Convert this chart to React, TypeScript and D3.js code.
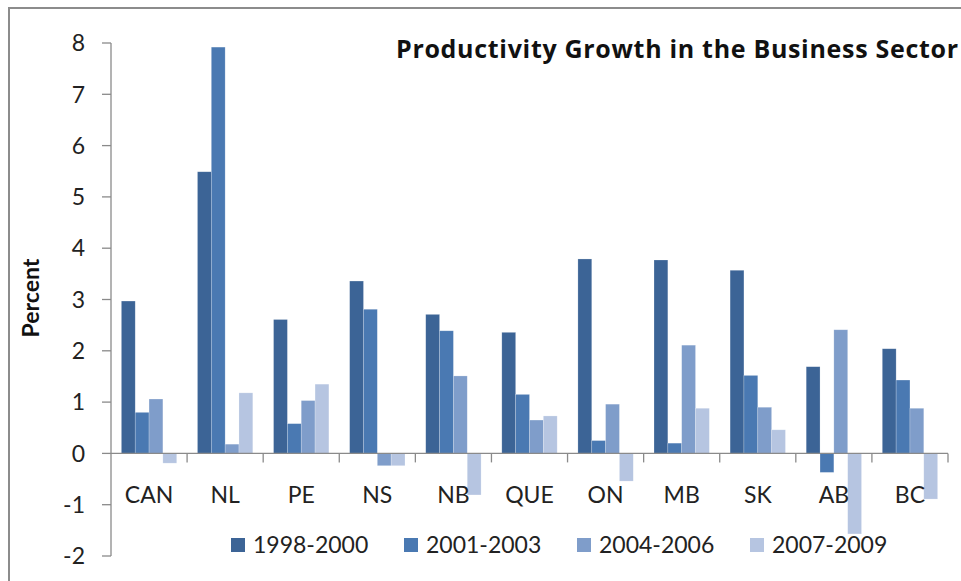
import React from "react"
import * as d3 from "d3"

const width = 961
const height = 581
const margin = { top: 43, right: 13, bottom: 25, left: 111 }

// categories and series values
const provinces = ["CAN", "NL", "PE", "NS", "NB", "QUE", "ON", "MB", "SK", "AB", "BC"]
const periods = ["1998-2000", "2001-2003", "2004-2006", "2007-2009"]
const growth1998 = [2.97, 5.49, 2.61, 3.36, 2.71, 2.36, 3.79, 3.77, 3.57, 1.69, 2.04]
const growth2001 = [0.8, 7.92, 0.58, 2.81, 2.39, 1.15, 0.25, 0.2, 1.52, -0.37, 1.43]
const growth2004 = [1.06, 0.18, 1.03, -0.24, 1.51, 0.65, 0.96, 2.11, 0.9, 2.41, 0.88]
const growth2007 = [-0.19, 1.18, 1.35, -0.24, -0.81, 0.73, -0.54, 0.88, 0.46, -1.57, -0.89]
const yTicks = [-2, -1, 0, 1, 2, 3, 4, 5, 6, 7, 8]
const colors = ["#3c6496", "#4a79b2", "#7f9dca", "#b6c5e1"]

const seriesValues = [growth1998, growth2001, growth2004, growth2007]

const font = "Lato, 'Open Sans', sans-serif"
const axisColor = "#8a8a8a"

export default function App() {
  const x0 = d3.scaleBand().domain(provinces).range([margin.left, width - margin.right])
  const gap = x0.bandwidth() * 1.5 / 5.5
  const x1 = d3.scaleBand().domain(periods).range([gap / 2, x0.bandwidth() - gap / 2])
  const y = d3.scaleLinear().domain([-2, 8]).range([height - margin.bottom, margin.top])

  const legendX = d3.scaleBand().domain(periods).range([231, 231 + 173 * 4])

  return (
    <svg width={width} height={height} style={{ position: "absolute", left: 0, top: 0, background: "#fff" }}>
      {/* chart frame */}
      <path d={`M9,${height} L9,8 L${width},8`} fill="none" stroke="#8c8c8c" strokeWidth={2} />

      <text
        x={396}
        y={58}
        fontFamily="'Open Sans', Lato, sans-serif"
        fontWeight="bold"
        fontSize={25}
        textLength={562}
        lengthAdjust="spacing"
        fill="#111"
      >
        Productivity Growth in the Business Sector
      </text>

      <text
        transform={`translate(39,298) rotate(-90)`}
        textAnchor="middle"
        fontFamily={font}
        fontWeight="bold"
        fontSize={23}
        fill="#111"
      >
        Percent
      </text>

      {/* y axis */}
      <line x1={margin.left} x2={margin.left} y1={y(8)} y2={y(-2)} stroke={axisColor} strokeWidth={1.3} />
      {yTicks.map(t => (
        <g key={t}>
          <line x1={margin.left - 9} x2={margin.left} y1={y(t)} y2={y(t)} stroke={axisColor} strokeWidth={1.3} />
          <text x={85} y={y(t)} dy="0.36em" textAnchor="end" fontFamily={font} fontSize={23} fill="#222">
            {t}
          </text>
        </g>
      ))}

      {/* bars */}
      {provinces.map((p, i) => (
        <g key={p} transform={`translate(${x0(p)},0)`}>
          {periods.map((s, j) => {
            const v = seriesValues[j][i]
            return (
              <rect
                key={s}
                x={x1(s)}
                y={y(Math.max(0, v))}
                width={x1.bandwidth()}
                height={Math.abs(y(v) - y(0))}
                fill={colors[j]}
                stroke="#ffffff"
                strokeOpacity={0.35}
                strokeWidth={0.6}
              />
            )
          })}
        </g>
      ))}

      {/* x axis */}
      <line x1={margin.left} x2={width - margin.right} y1={y(0)} y2={y(0)} stroke={axisColor} strokeWidth={1.3} />
      {provinces.map((p, i) => (
        <g key={p}>
          <line
            x1={(x0(p) as number) + x0.bandwidth()}
            x2={(x0(p) as number) + x0.bandwidth()}
            y1={y(0)}
            y2={y(0) + 9}
            stroke={axisColor}
            strokeWidth={1.3}
          />
          <text
            x={(x0(p) as number) + x0.bandwidth() / 2}
            y={503}
            textAnchor="middle"
            fontFamily={font}
            fontSize={23}
            fill="#222"
          >
            {p}
          </text>
        </g>
      ))}

      {/* legend */}
      {periods.map((s, j) => (
        <g key={s} transform={`translate(${legendX(s)},538)`}>
          <rect width={14} height={14} fill={colors[j]} />
          <text x={22} y={7} dy="0.36em" fontFamily={font} fontSize={23} fill="#222">
            {s}
          </text>
        </g>
      ))}
    </svg>
  )
}
